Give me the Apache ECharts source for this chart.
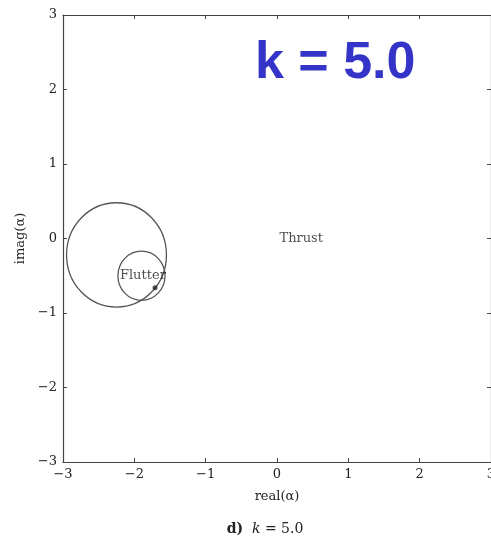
<!DOCTYPE html>
<html>
<head>
<meta charset="utf-8">
<script src="https://cdn.jsdelivr.net/npm/echarts@6/dist/echarts.min.js"></script>
<style>
  html, body { margin: 0; padding: 0; background: #fff; overflow: hidden; }
  #main { width: 491px; height: 537px; }
</style>
</head>
<body>
<div id="main"></div>
<script>
// axis range (ticks every 1)
var axisMin = -3;
var axisMax = 3;

// loops of the locus: [centre real, centre imag, radius]
var loops = [
  [-2.25, -0.22, 0.70],
  [-1.90, -0.50, 0.33]
];
// end point marker
var flutterPoint = [[-1.71, -0.66]];
// text labels in data coords
var notes = [
  { name: 'Flutter', value: [-1.88, -0.50] },
  { name: 'Thrust', value: [0.34, 0.0] }
];

var serif = '"DejaVu Serif", "Liberation Serif", serif';
var lineCol = '#444';
var textCol = '#222';

function fmt(v) { return String(v).replace('-', '\u2212'); }

var chart = echarts.init(document.getElementById('main'), null, { renderer: 'canvas' });

var axisBase = {
  type: 'value',
  min: axisMin, max: axisMax, interval: 1,
  axisLine: { show: true, onZero: false, lineStyle: { color: lineCol, width: 1.2 } },
  axisTick: { show: true, inside: true, length: 4, lineStyle: { color: lineCol } },
  splitLine: { show: false }
};

function renderLoop(params, api) {
  var c = api.coord([api.value(0), api.value(1)]);
  var s = api.size([api.value(2), api.value(2)]);
  var rx = s[0], ry = s[1];
  var d = 'M' + (c[0] - rx) + ' ' + c[1] +
    ' A' + rx + ' ' + ry + ' 0 1 0 ' + (c[0] + rx) + ' ' + c[1] +
    ' A' + rx + ' ' + ry + ' 0 1 0 ' + (c[0] - rx) + ' ' + c[1] + ' Z';
  return {
    type: 'path',
    shape: { pathData: d, x: c[0] - rx, y: c[1] - ry, width: 2 * rx, height: 2 * ry, layout: 'cover' },
    style: { fill: 'none', stroke: '#555', lineWidth: 1.3 }
  };
}

var option = {
  backgroundColor: '#fff',
  animation: false,
  title: [{
    text: 'k = 5.0',
    left: 250, top: 33,
    textStyle: { fontFamily: '"Liberation Sans", Arial, sans-serif', fontSize: 52, fontWeight: 'bold', color: '#3434c8' }
  }, {
    text: '{b|d)}  {i|k} = 5.0',
    left: 260, top: 517, textAlign: 'center',
    textStyle: {
      fontFamily: serif, fontSize: 14, color: textCol, fontWeight: 'normal',
      rich: {
        b: { fontFamily: serif, fontSize: 14, fontWeight: 'bold', color: textCol },
        i: { fontFamily: serif, fontSize: 14, fontStyle: 'italic', color: textCol }
      }
    }
  }],
  grid: { left: 63, right: 0, top: 15, bottom: 75, containLabel: false, outerBoundsMode: 'none' },
  xAxis: [
    Object.assign({}, axisBase, {
      position: 'bottom',
      name: 'real(\u03b1)', nameLocation: 'middle', nameGap: 28,
      nameTextStyle: { fontFamily: serif, fontSize: 13, color: textCol },
      axisLabel: { fontFamily: serif, fontSize: 13, color: textCol, margin: 6, formatter: fmt }
    }),
    Object.assign({}, axisBase, { position: 'top', axisLabel: { show: false } })
  ],
  yAxis: [
    Object.assign({}, axisBase, {
      position: 'left',
      name: 'imag(\u03b1)', nameLocation: 'middle', nameGap: 29, nameRotate: 90,
      nameTextStyle: { fontFamily: serif, fontSize: 13, color: textCol },
      axisLabel: { fontFamily: serif, fontSize: 13, color: textCol, margin: 6, formatter: fmt }
    }),
    Object.assign({}, axisBase, { position: 'right', axisLabel: { show: false } })
  ],
  series: [
    {
      type: 'custom', data: loops, renderItem: renderLoop, silent: true,
      clip: false
    },
    {
      type: 'scatter', data: flutterPoint, symbolSize: 5, silent: true,
      itemStyle: { color: '#222' }
    },
    {
      type: 'scatter', data: notes, symbolSize: 0, silent: true,
      label: {
        show: true, position: 'inside', formatter: '{b}',
        fontFamily: serif, fontSize: 13, color: textCol
      }
    }
  ]
};

chart.setOption(option);
</script>
</body>
</html>
